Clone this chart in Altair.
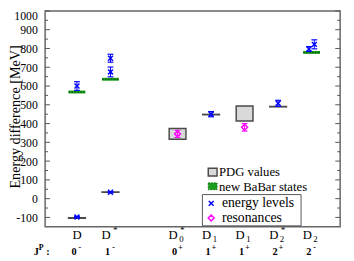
import altair as alt
import pandas as pd

# ---------------- data ----------------
cat_x = [1, 2, 4, 5, 6, 7, 8]
cat_sub = ["", "", "0", "1", "1", "2", "2"]
cat_sup = ["", "*", "*", "", "", "*", ""]
jp_num = ["0", "1", "0", "1", "1", "2", "2"]
jp_sign = ["-", "-", "+", "+", "+", "+", "-"]

# PDG values (low / high edge of box)
pdg_x = [1, 2, 4, 5, 6, 7]
pdg_lo = [-104, 34, 316, 447, 414, 489]
pdg_hi = [-102, 36, 374, 449, 494, 491]

# new BaBar states
babar_x = [1, 2, 8]
babar_val = [568, 636, 779]

# energy levels
lev_x = [1, 1, 2, 2, 2, 5, 7, 7.92, 8.08]
lev_val = [-98, 600, 34, 675, 748, 450, 508, 797, 822]
lev_err = [3, 23, 3, 26, 21, 14, 16, 13, 24]

# resonances
res_x = [4, 6]
res_val = [345, 380]
res_err = [19, 20]

y_major = list(range(-100, 1001, 100))
y_minor = list(range(-50, 1000, 100))

# ---------------- style ----------------
SERIF = "Liberation Serif"
BLUE = "#0000ff"
MAG = "#ff00ff"
W, H = 302, 221
XPATH = "M-1,-1L1,1M-1,1L1,-1"

xs = alt.Scale(domain=[0.05, 8.85])
ys = alt.Scale(domain=[-150, 1000])
yaxis = alt.Axis(
    values=y_major, ticks=False, domain=False, grid=False, tickSize=0,
    labelPadding=8, labelFont=SERIF, labelFontSize=12, labelColor="black",
    labelExpr="'' + datum.value",
    labelBaseline={"condition": {"test": "datum.value == 1000", "value": "top"}, "value": "middle"},
    title="Energy difference [MeV]", titleFont=SERIF, titleFontSize=14.5,
    titleFontWeight="normal", titleColor="black", titleAngle=-90,
    titleX=-26, titleY=108, titleAlign="center", titleBaseline="alphabetic",
)


def X(f):
    return alt.X(f, scale=xs, axis=None)


def Y(f):
    return alt.Y(f, scale=ys, axis=yaxis)


dummy = pd.DataFrame({"a": [0]})

# ticks (inward, both sides)
tmaj = pd.DataFrame({"v": y_major})
tmin = pd.DataFrame({"v": y_minor})
tick_layers = [
    alt.Chart(tmaj).mark_rule(color="#555", strokeWidth=1).encode(y=Y("v:Q"), x=alt.value(0), x2=alt.value(5)),
    alt.Chart(tmaj).mark_rule(color="#555", strokeWidth=1).encode(y=Y("v:Q"), x=alt.value(W - 5), x2=alt.value(W)),
    alt.Chart(tmin).mark_rule(color="#555", strokeWidth=1).encode(y=Y("v:Q"), x=alt.value(0), x2=alt.value(3)),
    alt.Chart(tmin).mark_rule(color="#555", strokeWidth=1).encode(y=Y("v:Q"), x=alt.value(W - 3), x2=alt.value(W)),
]

pdg = pd.DataFrame({"x": pdg_x, "lo": pdg_lo, "hi": pdg_hi})
pdg_layer = alt.Chart(pdg).transform_calculate(
    xl="datum.x - 0.25", xr="datum.x + 0.25"
).mark_rect(fill="#d9d9d9", stroke="#4a4a4a", strokeWidth=1.5).encode(
    x=X("xl:Q"), x2="xr:Q", y=Y("lo:Q"), y2="hi:Q"
)

bab = pd.DataFrame({"x": babar_x, "v": babar_val})
bab_base = alt.Chart(bab).transform_calculate(xl="datum.x - 0.25", xr="datum.x + 0.25")
bab_layer = bab_base.mark_rule(color="#1e9e1e", strokeWidth=3).encode(x=X("xl:Q"), x2="xr:Q", y=Y("v:Q"))
bab_layer2 = bab_base.mark_rule(color="#006400", strokeWidth=1.5, strokeDash=[1.5, 1.5]).encode(
    x=X("xl:Q"), x2="xr:Q", y=Y("v:Q"))


def errlayers(df, color, shape, size):
    base = alt.Chart(df).transform_calculate(lo="datum.v - datum.e", hi="datum.v + datum.e")
    rule = base.mark_rule(color=color, strokeWidth=1).encode(x=X("x:Q"), y=Y("lo:Q"), y2="hi:Q")
    caps = base.transform_fold(["lo", "hi"], as_=["k", "c"]).mark_tick(
        orient="horizontal", size=6, thickness=1.2, color=color, opacity=1
    ).encode(x=X("x:Q"), y=Y("c:Q"))
    pts = base.mark_point(shape=shape, size=size, strokeWidth=1.5, color=color, filled=False, opacity=1).encode(
        x=X("x:Q"), y=Y("v:Q"))
    return [rule, caps, pts]


lev = pd.DataFrame({"x": lev_x, "v": lev_val, "e": lev_err})
res = pd.DataFrame({"x": res_x, "v": res_val, "e": res_err})
lev_layers = errlayers(lev, BLUE, XPATH, 25)
res_layers = errlayers(res, MAG, "diamond", 36)

# legend (manual)
leg = [
    alt.Chart(dummy).mark_rect(fill="#d9d9d9", stroke="#4a4a4a", strokeWidth=1.5).encode(
        x=alt.value(167), x2=alt.value(176), y=alt.value(161), y2=alt.value(169)),
    alt.Chart(dummy).mark_rect(fill="#1e9e1e", stroke="#006400", strokeWidth=1, strokeDash=[1.5, 1.5]).encode(
        x=alt.value(167), x2=alt.value(176), y=alt.value(176), y2=alt.value(183)),
    alt.Chart(dummy).mark_text(text="PDG values", font=SERIF, fontSize=13, align="left", baseline="middle").encode(
        x=alt.value(178), y=alt.value(165)),
    alt.Chart(dummy).mark_text(text="new BaBar states", font=SERIF, fontSize=13, align="left", baseline="middle").encode(
        x=alt.value(178), y=alt.value(180)),
    alt.Chart(dummy).mark_rect(fill="white", stroke="#555", strokeWidth=1).encode(
        x=alt.value(161), x2=alt.value(262), y=alt.value(188), y2=alt.value(220)),
    alt.Chart(dummy).mark_point(shape=XPATH, size=25, strokeWidth=1.5, color=BLUE, opacity=1).encode(
        x=alt.value(170), y=alt.value(197)),
    alt.Chart(dummy).mark_point(shape="diamond", size=36, strokeWidth=1.5, color=MAG, opacity=1).encode(
        x=alt.value(170), y=alt.value(212)),
    alt.Chart(dummy).mark_text(text="energy levels", font=SERIF, fontSize=14, align="left", baseline="middle").encode(
        x=alt.value(181), y=alt.value(197)),
    alt.Chart(dummy).mark_text(text="resonances", font=SERIF, fontSize=14, align="left", baseline="middle").encode(
        x=alt.value(181), y=alt.value(212)),
]

# category labels
lab = pd.DataFrame({"x": cat_x, "sub": cat_sub, "sup": cat_sup, "num": jp_num, "sign": jp_sign})
LY = 229.5
JY = 247
labs = [
    alt.Chart(lab).transform_filter("datum.sub == '' && datum.sup == ''").mark_text(
        text="D", font=SERIF, fontSize=13, baseline="middle").encode(x=X("x:Q"), y=alt.value(LY)),
    alt.Chart(lab).transform_filter("datum.sub != '' || datum.sup != ''").mark_text(
        text="D", font=SERIF, fontSize=13, baseline="middle", dx=-4.5).encode(x=X("x:Q"), y=alt.value(LY)),
    alt.Chart(lab).transform_filter("datum.sub != ''").mark_text(
        font=SERIF, fontSize=9, baseline="middle", dx=4, dy=4.5).encode(
        x=X("x:Q"), y=alt.value(LY), text="sub:N"),
    alt.Chart(lab).transform_filter("datum.sup != ''").mark_text(
        font=SERIF, fontSize=9.5, baseline="middle", dx=5, dy=-5).encode(
        x=X("x:Q"), y=alt.value(LY), text="sup:N"),
    alt.Chart(lab).mark_text(font=SERIF, fontSize=10.5, fontWeight="bold", baseline="middle", dx=-3).encode(
        x=X("x:Q"), y=alt.value(JY), text="num:N"),
    alt.Chart(lab).mark_text(font=SERIF, fontSize=8, fontWeight="bold", baseline="middle", dx=3, dy=-4).encode(
        x=X("x:Q"), y=alt.value(JY), text="sign:N"),
    alt.Chart(dummy).mark_text(text="J", font=SERIF, fontSize=10.5, fontWeight="bold", baseline="middle").encode(
        x=alt.value(-9), y=alt.value(JY)),
    alt.Chart(dummy).mark_text(text="P", font=SERIF, fontSize=8, fontWeight="bold", baseline="middle").encode(
        x=alt.value(-4), y=alt.value(JY - 4)),
    alt.Chart(dummy).mark_text(text=":", font=SERIF, fontSize=10.5, fontWeight="bold", baseline="middle").encode(
        x=alt.value(3), y=alt.value(JY)),
]

chart = alt.layer(
    *tick_layers, pdg_layer, bab_layer, bab_layer2, *lev_layers, *res_layers, *leg, *labs
).properties(
    width=W, height=H,
    padding={"left": 38, "top": 0, "right": 6, "bottom": 32},
    autosize=alt.AutoSizeParams(type="none"),
).configure_view(stroke="#666666", strokeWidth=1.5)

chart.save("out.html", embed_options={"renderer": "svg", "actions": False})
